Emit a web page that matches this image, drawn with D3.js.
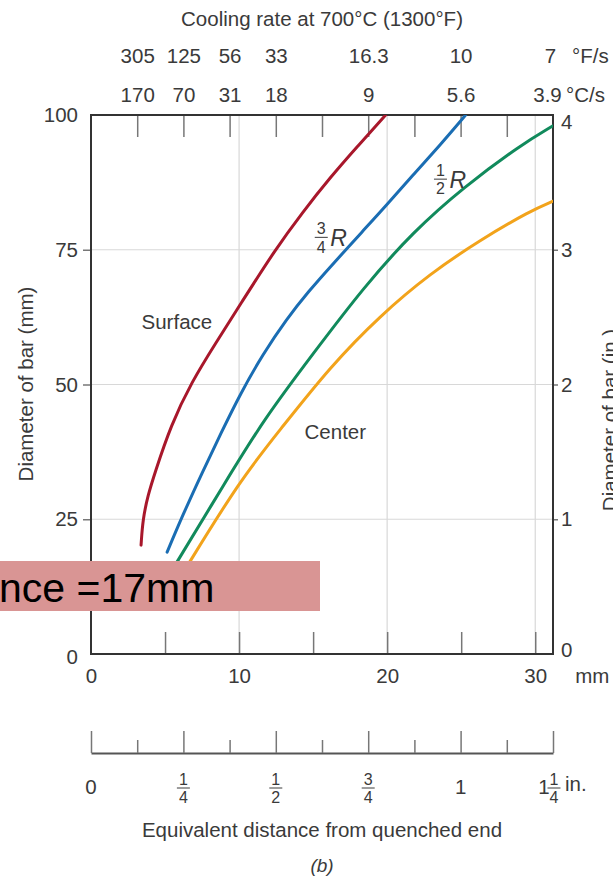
<!DOCTYPE html>
<html><head><meta charset="utf-8">
<script src="https://cdn.jsdelivr.net/npm/d3@7"></script>
<style>
html,body{margin:0;padding:0;background:#fff;}
svg{display:block;}
text{font-family:"Liberation Sans",Arial,sans-serif;fill:#3a3a3a;}
</style></head>
<body>
<svg id="chart" width="613" height="881"></svg>
<script>
// ---- data ----
const topTickEighths = [1,2,3,4,5,6,7,8,9];
const coolPosEighths = [1,2,3,4,6,8,10];
const coolF = ["305","125","56","33","16.3","10","7"];
const coolC = ["170","70","31","18","9","5.6","3.9"];
const mmLabels = [0,10,20,30];
const mmMinorTicks = [5,10,15,20,25,30];
const diaMM = [0,25,50,75,100];
const diaIn = [0,1,2,3,4];
const inchMajor = [0,0.25,0.5,0.75,1,1.25];
const inchMinor = [0.125,0.375,0.625,0.875,1.125];
const inchLabels = [
  {v:0, whole:"0"}, {v:0.25, num:"1", den:"4"}, {v:0.5, num:"1", den:"2"},
  {v:0.75, num:"3", den:"4"}, {v:1, whole:"1"}, {v:1.25, whole:"1", num:"1", den:"4", unit:"in."}
];
// series: [equivalent distance (mm), bar diameter (mm)]
const surface = [[3.38,20.2],[3.5,25],[3.85,29.5],[4.3,33.5],[5.4,42.5],[6.8,50.5],[8.4,57.6],[10.07,64.8],[12.43,75],[14.3,82],[16.15,88.4],[18,94.2],[19.9,100]];
const threeQuarterR = [[5.14,18.9],[6.2,25.8],[7.48,33.5],[8.8,41.1],[10.07,48.2],[11.6,55.6],[13.22,62.2],[14.7,67.3],[16.15,71.8],[18.4,78.6],[20,83.4],[21.78,89],[23.6,94.5],[25.3,100]];
const halfR = [[5.35,15],[9.17,32.3],[11.64,43.4],[15.02,55.8],[18.4,68],[21.78,78.4],[25.16,86.6],[29.0,94.4],[31.2,98.0]];
const center = [[6.2,15],[10.07,32.3],[12.77,41.6],[16.15,53.3],[19.53,62.8],[22.91,70.6],[26.28,76.8],[29.66,82.2],[31.2,84.0]];
const seriesColors = ["#a8172b","#1a6db3","#118a5c","#f2a31b"];

// ---- scales ----
const L=91, R=553, T=115, B=654;
const xMM = d3.scaleLinear().domain([0,31.2]).range([L,R]);
const xIn = d3.scaleLinear().domain([0,1.25]).range([L,R]);
const yMM = d3.scaleLinear().domain([0,100]).range([B,T]);
const yIn = d3.scaleLinear().domain([0,4]).range([B,T]);

const svg = d3.select("#chart");
const FS = 20.5;
const SERIF = "Liberation Serif, Times New Roman, serif";

// gridlines
svg.append("g").selectAll("line").data([10,20,30]).join("line")
  .attr("x1",d=>xMM(d)).attr("x2",d=>xMM(d)).attr("y1",T).attr("y2",B)
  .attr("stroke","#d8d8d8").attr("stroke-width",1.2);
svg.append("g").selectAll("line").data([25,50,75]).join("line")
  .attr("x1",L).attr("x2",R).attr("y1",d=>yMM(d)).attr("y2",d=>yMM(d))
  .attr("stroke","#d8d8d8").attr("stroke-width",1.2);

function styleAxis(g){
  g.select(".domain").remove();
  g.selectAll(".tick line").attr("stroke","#777").attr("stroke-width",1.5);
  g.selectAll(".tick text").attr("font-size",FS).attr("fill","#3a3a3a")
   .attr("font-family","Liberation Sans, Arial, sans-serif");
}

// left axis
const gl = svg.append("g").attr("transform",`translate(${L},0)`)
  .call(d3.axisLeft(yMM).tickValues(diaMM).tickSize(8).tickPadding(5)).call(styleAxis);
gl.selectAll(".tick line").filter(d=>d===0||d===100).remove();
gl.selectAll(".tick").filter(d=>d===0).select("text").attr("dy","0.45em").attr("x",-13);
// right axis
const gr = svg.append("g").attr("transform",`translate(${R},0)`)
  .call(d3.axisRight(yIn).tickValues(diaIn).tickSize(5).tickPadding(3).tickFormat(d3.format("d"))).call(styleAxis);
gr.selectAll(".tick line").filter(d=>d===0||d===4).remove();
gr.selectAll(".tick").filter(d=>d===4).select("text").attr("dy","0.65em");
gr.selectAll(".tick").filter(d=>d===0).select("text").attr("dy","0.1em");

// bottom mm axis
svg.append("g").attr("transform",`translate(0,${B})`)
  .call(d3.axisBottom(xMM).tickValues(mmLabels).tickSize(0).tickPadding(14)).call(styleAxis);
svg.append("g").attr("transform",`translate(0,${B})`)
  .call(d3.axisTop(xMM).tickValues(mmMinorTicks).tickSize(22).tickFormat("")).call(styleAxis);
svg.append("text").attr("x",xMM(30)+40).attr("y",B+29).attr("font-size",FS).text("mm");

// top axis (inch eighths)
svg.append("g").attr("transform",`translate(0,${T})`)
  .call(d3.axisBottom(xIn).tickValues(topTickEighths.map(d=>d/8)).tickSize(22).tickFormat("")).call(styleAxis);
const gC = svg.append("g").attr("transform",`translate(0,${T})`)
  .call(d3.axisTop(xIn).tickValues(coolPosEighths.map(d=>d/8)).tickSize(0).tickPadding(13)
  .tickFormat((d,i)=>coolC[i])).call(styleAxis);
const gF = svg.append("g").attr("transform",`translate(0,${T})`)
  .call(d3.axisTop(xIn).tickValues(coolPosEighths.map(d=>d/8)).tickSize(0).tickPadding(52)
  .tickFormat((d,i)=>coolF[i])).call(styleAxis);
gC.selectAll(".tick").filter(d=>d===1.25).select("text").attr("dx",-6);
gF.selectAll(".tick").filter(d=>d===1.25).select("text").attr("dx",-3);
svg.append("text").attr("x",572).attr("y",T-52).attr("font-size",FS).text("°F/s");
svg.append("text").attr("x",566).attr("y",T-13).attr("font-size",FS).text("°C/s");
svg.append("text").attr("x",322).attr("y",26).attr("text-anchor","middle").attr("font-size",FS).text("Cooling rate at 700°C (1300°F)");

// border
svg.append("rect").attr("x",L).attr("y",T).attr("width",R-L).attr("height",B-T)
  .attr("fill","none").attr("stroke","#333").attr("stroke-width",2);

// curves
svg.append("clipPath").attr("id","plotclip").append("rect").attr("x",L).attr("y",T).attr("width",R-L).attr("height",B-T);
const line = d3.line().x(d=>xMM(d[0])).y(d=>yMM(d[1])).curve(d3.curveBasis);
const gCurves = svg.append("g").attr("clip-path","url(#plotclip)");
[surface,threeQuarterR,halfR,center].forEach((s,i)=>{
  gCurves.append("path").attr("d",line(s)).attr("fill","none")
    .attr("stroke",seriesColors[i]).attr("stroke-width",3).attr("stroke-linecap","round");
});

// curve labels
svg.append("text").attr("x",xMM(5.8)).attr("y",yMM(61.6)+7).attr("text-anchor","middle").attr("font-size",FS).text("Surface");
svg.append("text").attr("x",xMM(16.5)).attr("y",yMM(41.2)+7).attr("text-anchor","middle").attr("font-size",FS).text("Center");

function fraction(g,x,yBar,num,den,fs){
  g.append("text").attr("x",x).attr("y",yBar-3).attr("text-anchor","middle").attr("font-size",fs).text(num);
  g.append("line").attr("x1",x-6.5).attr("x2",x+6.5).attr("y1",yBar).attr("y2",yBar).attr("stroke","#3a3a3a").attr("stroke-width",1);
  g.append("text").attr("x",x).attr("y",yBar+fs*0.95).attr("text-anchor","middle").attr("font-size",fs).text(den);
}
const gLab = svg.append("g");
fraction(gLab, xMM(15.55), yMM(77.3), "3","4",16);
gLab.append("text").attr("x",xMM(15.55)+9).attr("y",yMM(77.3)+9).attr("font-size",23)
  .attr("font-family",SERIF).attr("font-style","italic").text("R");
fraction(gLab, xMM(23.6), yMM(88.1), "1","2",16);
gLab.append("text").attr("x",xMM(23.6)+9).attr("y",yMM(88.1)+9).attr("font-size",23)
  .attr("font-family",SERIF).attr("font-style","italic").text("R");

// axis titles
svg.append("text").attr("transform",`translate(33,384) rotate(-90)`).attr("text-anchor","middle").attr("font-size",FS).text("Diameter of bar (mm)");
svg.append("text").attr("transform",`translate(617,420) rotate(-90)`).attr("text-anchor","middle").attr("font-size",FS).text("Diameter of bar (in.)");

// bottom inch axis
const yInAx = 753;
const gi = svg.append("g").attr("transform",`translate(0,${yInAx})`)
  .call(d3.axisTop(xIn).tickValues(inchMajor).tickSize(22).tickSizeOuter(0).tickFormat(""));
gi.select(".domain").attr("stroke","#555").attr("stroke-width",2);
gi.selectAll(".tick line").attr("stroke","#777").attr("stroke-width",1.5);
svg.append("g").attr("transform",`translate(0,${yInAx})`)
  .call(d3.axisTop(xIn).tickValues(inchMinor).tickSize(13).tickFormat("")).call(styleAxis);

const gIL = svg.append("g");
inchLabels.forEach(d=>{
  const x = xIn(d.v);
  if(d.whole && !d.num){
    gIL.append("text").attr("x",x).attr("y",794).attr("text-anchor","middle").attr("font-size",FS).text(d.whole);
  } else if(d.whole && d.num){
    gIL.append("text").attr("x",x-9).attr("y",794).attr("text-anchor","middle").attr("font-size",FS).text(d.whole);
    fraction(gIL, x+1, 788, d.num, d.den, 16);
    gIL.append("text").attr("x",x+12).attr("y",791).attr("font-size",FS).text(d.unit);
  } else {
    fraction(gIL, x, 788, d.num, d.den, 16);
  }
});
svg.append("text").attr("x",322).attr("y",837).attr("text-anchor","middle").attr("font-size",FS).text("Equivalent distance from quenched end");
svg.append("text").attr("x",322).attr("y",872).attr("text-anchor","middle").attr("font-size",19)
  .attr("font-family",SERIF).attr("font-style","italic").text("(b)");

// overlay box
svg.append("rect").attr("x",0).attr("y",561).attr("width",320).attr("height",50).attr("fill","#d99594");
svg.append("text").attr("x",-1).attr("y",602).attr("font-size",41).attr("font-family","Lato, Open Sans, sans-serif")
  .style("fill","#000").text("nce =17mm");
</script>
</body></html>
